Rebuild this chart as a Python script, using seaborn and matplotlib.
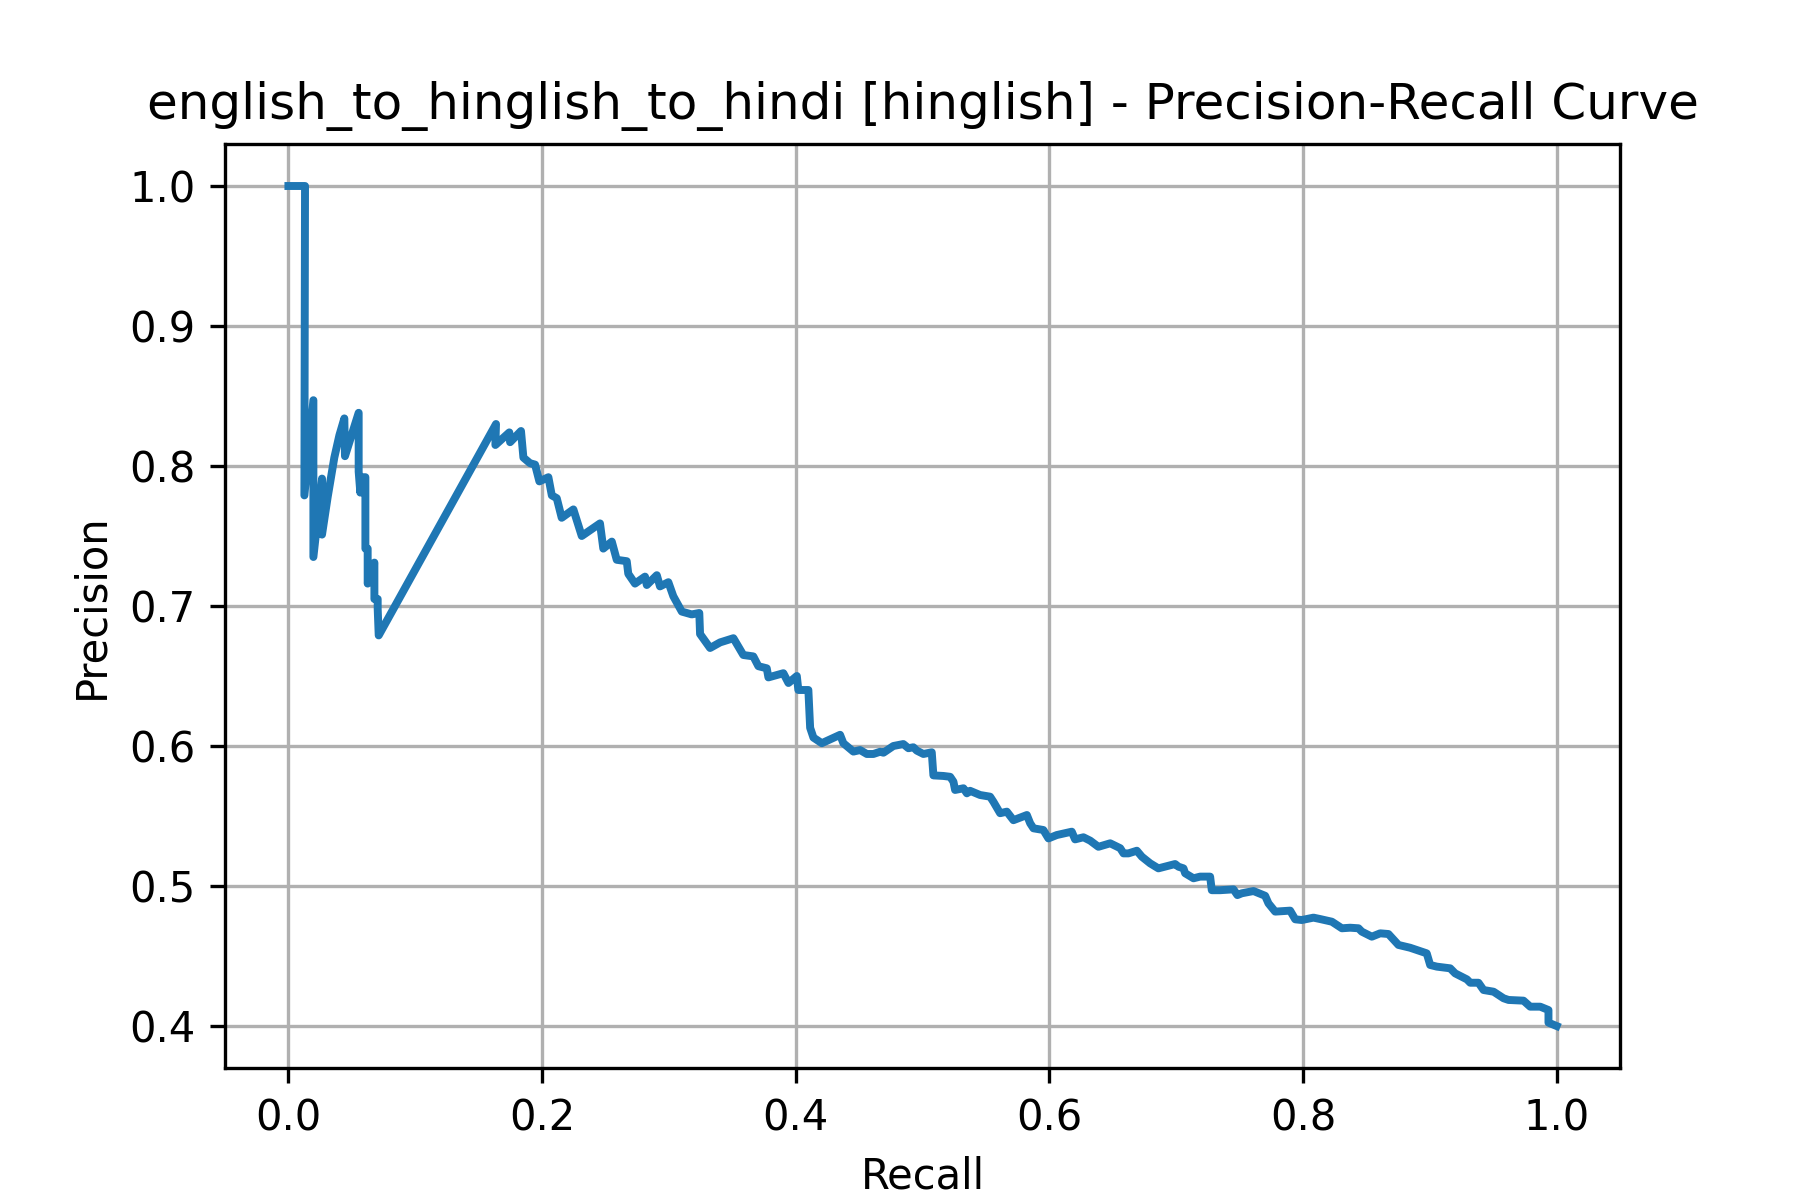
import matplotlib
matplotlib.use("Agg")
import matplotlib.pyplot as plt
import seaborn as sns
import pandas as pd

title = "english_to_hinglish_to_hindi [hinglish] - Precision-Recall Curve"
x_label = "Recall"
y_label = "Precision"

recall = [0.0, 0.0131, 0.0126, 0.0197, 0.0197, 0.0265, 0.0265, 0.031, 0.0362, 0.0402,
          0.0441, 0.0446, 0.0554, 0.0554, 0.0567, 0.0567, 0.0607, 0.0607, 0.0625, 0.0625,
          0.0678, 0.0678, 0.0704, 0.0704, 0.0712,
          0.1637, 0.1632, 0.1742, 0.1748, 0.1834, 0.1853, 0.1905, 0.1945, 0.1979, 0.205,
          0.2077, 0.2116, 0.2155, 0.2247, 0.2313, 0.2457, 0.2483, 0.255, 0.2589, 0.2668,
          0.268, 0.2733, 0.2812, 0.2826, 0.2905, 0.293, 0.2996, 0.3035, 0.3102, 0.318,
          0.324, 0.3246, 0.3325, 0.3404, 0.3509, 0.3587, 0.3666, 0.3706, 0.3772, 0.3785,
          0.3903, 0.3943, 0.4009, 0.4021, 0.41, 0.4114, 0.414, 0.4206, 0.435, 0.4376,
          0.4455, 0.4508, 0.4561, 0.4613, 0.4666, 0.4692, 0.477, 0.4849, 0.4889, 0.4928,
          0.4955, 0.5007, 0.5073, 0.5086, 0.5165, 0.5218, 0.5244, 0.5257, 0.5323, 0.535,
          0.5375, 0.5454, 0.5533, 0.5559, 0.5612, 0.5665, 0.5717, 0.5823, 0.5849, 0.5875,
          0.5953, 0.5993, 0.6059, 0.6177, 0.6203, 0.6269, 0.6322, 0.6387, 0.648, 0.6559,
          0.6585, 0.6624, 0.669, 0.673, 0.6795, 0.686, 0.6992, 0.7018, 0.7058, 0.7071,
          0.7137, 0.7189, 0.7268, 0.7281, 0.7347, 0.7452, 0.7483, 0.7518, 0.761, 0.7702,
          0.7728, 0.7781, 0.7899, 0.7939, 0.7991, 0.8083, 0.8135, 0.8228, 0.8307, 0.8372,
          0.8438, 0.8464, 0.8543, 0.8609, 0.8674, 0.8753, 0.8845, 0.8898, 0.8976, 0.9003,
          0.9056, 0.9161, 0.92, 0.9293, 0.9319, 0.9384, 0.9424, 0.9503, 0.9582, 0.9621,
          0.9739, 0.9792, 0.9871, 0.9936, 0.9936, 1.0]
precision = [1.0, 1.0, 0.779, 0.847, 0.735, 0.791, 0.751, 0.778, 0.806, 0.822,
             0.834, 0.807, 0.838, 0.796, 0.781, 0.792, 0.792, 0.741, 0.741, 0.716,
             0.731, 0.705, 0.705, 0.698, 0.679,
             0.830, 0.815, 0.824, 0.817, 0.825, 0.806, 0.802, 0.801, 0.789, 0.792,
             0.779, 0.777, 0.763, 0.769, 0.750, 0.759, 0.741, 0.746, 0.733, 0.732,
             0.723, 0.716, 0.721, 0.715, 0.722, 0.714, 0.717, 0.707, 0.696, 0.694,
             0.695, 0.680, 0.670, 0.674, 0.677, 0.665, 0.664, 0.657, 0.6555, 0.649,
             0.652, 0.645, 0.650, 0.640, 0.640, 0.613, 0.606, 0.602, 0.608, 0.602,
             0.596, 0.5971, 0.5943, 0.5943, 0.5959, 0.5952, 0.600, 0.6014, 0.5984, 0.5991,
             0.5967, 0.5943, 0.5955, 0.579, 0.5786, 0.578, 0.5745, 0.5686, 0.5698, 0.5662,
             0.568, 0.565, 0.5638, 0.5602, 0.552, 0.5531, 0.547, 0.5507, 0.5448, 0.5412,
             0.540, 0.534, 0.5364, 0.5388, 0.5333, 0.5348, 0.5324, 0.528, 0.5305, 0.527,
             0.5233, 0.5233, 0.5252, 0.5209, 0.5162, 0.5126, 0.5157, 0.5138, 0.5126, 0.5091,
             0.5055, 0.5067, 0.5067, 0.497, 0.497, 0.4976, 0.4935, 0.4948, 0.4964, 0.493,
             0.4876, 0.4817, 0.4824, 0.4762, 0.4757, 0.4774, 0.4764, 0.4745, 0.4698, 0.4702,
             0.4698, 0.4674, 0.4638, 0.4662, 0.4657, 0.4579, 0.4559, 0.4543, 0.4519, 0.4436,
             0.4424, 0.4412, 0.4376, 0.4333, 0.4309, 0.4309, 0.4257, 0.4245, 0.4198, 0.4186,
             0.4181, 0.4138, 0.4138, 0.4114, 0.4024, 0.400]

df = pd.DataFrame({"recall": recall, "precision": precision})

fig, ax = plt.subplots(figsize=(6, 4), dpi=300)
sns.lineplot(data=df, x="recall", y="precision", sort=False, estimator=None,
             ax=ax, color="#1f77b4", linewidth=1.9)
ax.grid(True, color="#b0b0b0", linewidth=0.8)
ax.set_axisbelow(True)
ax.set_title(title, fontsize=12)
ax.set_xlabel(x_label)
ax.set_ylabel(y_label)
ax.set_xticks([0.0, 0.2, 0.4, 0.6, 0.8, 1.0])
ax.set_yticks([0.4, 0.5, 0.6, 0.7, 0.8, 0.9, 1.0])
ax.set_xlim(-0.05, 1.05)
ax.set_ylim(0.37, 1.03)
fig.savefig("out.png", dpi=300)
